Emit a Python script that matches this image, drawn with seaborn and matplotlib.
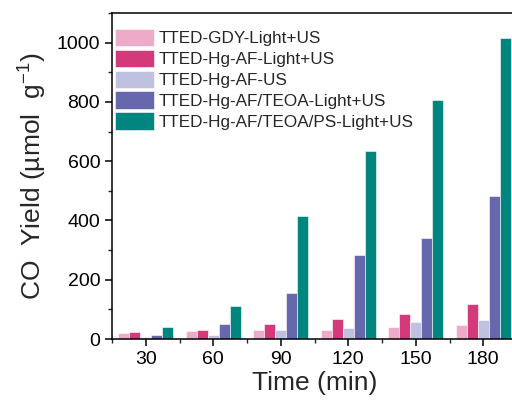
import matplotlib
matplotlib.use("Agg")
import matplotlib.pyplot as plt
from matplotlib.ticker import MultipleLocator, FixedLocator
import seaborn as sns
import pandas as pd

times = ["30", "60", "90", "120", "150", "180"]
samples = [
    "TTED-GDY-Light+US",
    "TTED-Hg-AF-Light+US",
    "TTED-Hg-AF-US",
    "TTED-Hg-AF/TEOA-Light+US",
    "TTED-Hg-AF/TEOA/PS-Light+US",
]
gdy_light_us = [19, 28, 31, 30, 39, 48]
hgaf_light_us = [24, 31, 52, 69, 85, 118]
hgaf_us = [6, 15, 31, 36, 56, 65]
hgaf_teoa_light_us = [14, 52, 155, 284, 340, 482]
hgaf_teoa_ps_light_us = [40, 111, 414, 634, 806, 1017]
colors = ["#EEABC9", "#D43A7A", "#C0C0E0", "#6767AD", "#00867F"]

series = [gdy_light_us, hgaf_light_us, hgaf_us, hgaf_teoa_light_us, hgaf_teoa_ps_light_us]
rows = []
for name, vals in zip(samples, series):
    for t, v in zip(times, vals):
        rows.append({"time": t, "yield": v, "sample": name})
df = pd.DataFrame(rows)

sns.set_style("ticks")
plt.rcParams["font.family"] = ["Liberation Sans", "DejaVu Sans"]
plt.rcParams["mathtext.fontset"] = "custom"
plt.rcParams["mathtext.rm"] = "Liberation Sans"

fig = plt.figure(figsize=(5.12, 4.05), dpi=100)
ax = fig.add_axes([112 / 512, 66 / 405, 405 / 512, 326 / 405])

sns.barplot(data=df, x="time", y="yield", hue="sample", order=times,
            hue_order=samples, palette=colors, width=0.82, saturation=1,
            edgecolor="white", linewidth=0.4, ax=ax)

ax.set_xlim(-0.5, 5.5)
ax.set_ylim(0, 1100)
ax.yaxis.set_major_locator(FixedLocator([0, 200, 400, 600, 800, 1000]))
ax.yaxis.set_minor_locator(MultipleLocator(100))
ax.xaxis.set_minor_locator(FixedLocator([i + 0.5 for i in range(-1, 6)]))

for side in ["left", "bottom", "top"]:
    ax.spines[side].set_linewidth(1.1)
    ax.spines[side].set_color("black")
ax.spines["right"].set_visible(False)
ax.tick_params(axis="both", which="major", direction="out", length=5, width=1.1,
               labelsize=14, colors="black")
ax.tick_params(axis="both", which="minor", direction="out", length=3, width=1.0)
ax.tick_params(axis="x", pad=4)

ax.set_xlabel("Time (min)", fontsize=19, labelpad=2)
ax.set_ylabel("CO  Yield (µmol  g$^{\\mathregular{-1}}$)", fontsize=19, labelpad=6)

ax.legend(loc="upper left", bbox_to_anchor=(0.008, 0.952), frameon=False,
          fontsize=12.3, handlelength=2.25, handleheight=1.2,
          labelspacing=0.2, handletextpad=0.3, borderpad=0, borderaxespad=0)

fig.savefig("out.png", dpi=100)
